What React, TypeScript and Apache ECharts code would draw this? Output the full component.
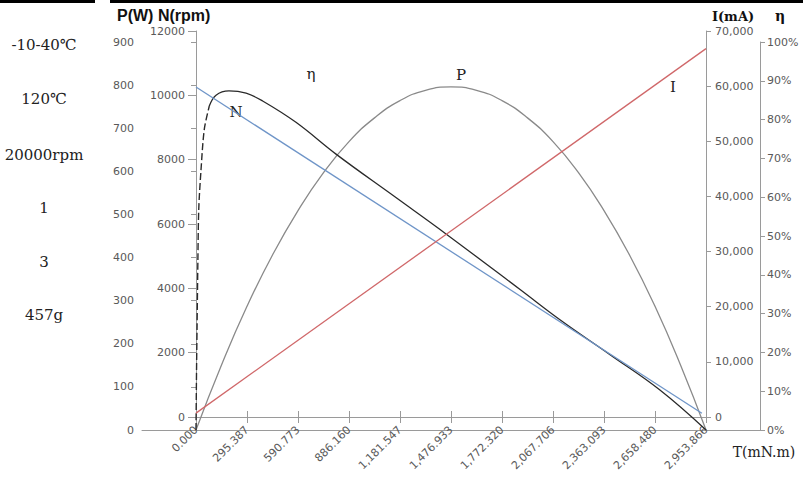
import React, { useEffect, useRef } from 'react';
import * as echarts from 'echarts';

// ---- data ----
const T_MAX = 2953.8663;
const T_STEP = 295.38663;
const xTickLabels = ['0.000', '295.387', '590.773', '886.160', '1,181.547', '1,476.933', '1,772.320', '2,067.706', '2,363.093', '2,658.480', '2,953.866'];

// Power P (W) vs torque T (mN.m)
const pTorque = [0, 147.7, 295.4, 443.1, 590.8, 738.5, 886.2, 1033.9, 1181.5, 1329.2, 1476.9, 1624.6, 1772.3, 1920.0, 2067.7, 2215.4, 2363.1, 2510.8, 2658.5, 2806.2, 2953.9];
const pWatts = [0, 151, 287, 406, 509, 597, 669, 724, 764, 788, 796, 788, 764, 724, 669, 597, 509, 406, 287, 151, 0];

// Efficiency η (%) – dashed start, then solid
const etaDashTorque = [0, 3, 6, 11, 16, 29, 48, 77];
const etaDashPct = [0, 15, 26, 44, 57, 67, 77.5, 83.5];
const etaTorque = [77, 116, 191, 290, 386, 579, 811, 1158, 1452, 1877, 2108, 2398, 2687, 2954];
const etaPct = [83.5, 86.3, 87.4, 86.8, 84.8, 79.3, 71.1, 59.9, 50.4, 36.2, 28.4, 19.4, 10.3, 0];

// Speed N (rpm)
const nTorque = [0, 2930];
const nRpm = [10260, 115];

// Current I (mA)
const iTorque = [0, 2953.87];
const iMilliamp = [700, 66800];

// Left spec column
const specTexts = ['-10-40℃', '120℃', '20000rpm', '1', '3', '457g'];
const specY = [45, 99, 155, 208, 262, 315];

const zip = (a: number[], b: number[]) => a.map((v, i) => [v, b[i]]);

const AXIS_COLOR = '#9a9a9a';
const LABEL_COLOR = '#595959';
const LABEL_FONT = { fontFamily: 'DejaVu Sans', fontSize: 11, color: LABEL_COLOR };

// layout (pixels)
const A_LEFT = 142, A_RIGHT_X = 760, A_TOP = 42, A_BOTTOM_Y = 430;
const B_LEFT = 196, B_RIGHT_X = 706, B_TOP = 31, B_BOTTOM_Y = 417;
const perPx = T_MAX / (B_RIGHT_X - B_LEFT);
const aMin = -(B_LEFT - A_LEFT) * perPx;
const aMax = T_MAX + (A_RIGHT_X - B_RIGHT_X) * perPx;

export default function App() {
  const ref = useRef<HTMLDivElement>(null);
  useEffect(() => {
    const chart = echarts.init(ref.current!, null, { renderer: 'svg' });
    const serif = 'DejaVu Serif';
    const graphics: any[] = [
      { type: 'rect', shape: { x: 0, y: 0, width: 95, height: 3 }, style: { fill: '#000' } },
      { type: 'rect', shape: { x: 110, y: 0, width: 693, height: 3 }, style: { fill: '#000' } },
      { type: 'text', x: 117, y: 15, style: { text: 'P(W) N(rpm)', font: 'bold 16px "Liberation Sans"', fill: '#111', verticalAlign: 'middle' } },
      { type: 'text', x: 733, y: 16, style: { text: 'I(mA)', font: 'bold 13px "DejaVu Serif"', fill: '#111', align: 'center', verticalAlign: 'middle' } },
      { type: 'text', x: 780, y: 16, style: { text: 'η', font: 'bold 14px "DejaVu Serif"', fill: '#111', align: 'center', verticalAlign: 'middle' } },
      { type: 'text', x: 764, y: 452, style: { text: 'T(mN.m)', font: '14px "DejaVu Serif"', fill: '#222', align: 'center', verticalAlign: 'middle' } },
      { type: 'text', x: 311, y: 74, style: { text: 'η', font: `15px "${serif}"`, fill: '#222', align: 'center', verticalAlign: 'middle' } },
      { type: 'text', x: 461, y: 75, style: { text: 'P', font: `15px "${serif}"`, fill: '#222', align: 'center', verticalAlign: 'middle' } },
      { type: 'text', x: 673, y: 87, style: { text: 'I', font: `15px "${serif}"`, fill: '#222', align: 'center', verticalAlign: 'middle' } },
      { type: 'text', x: 236, y: 112, style: { text: 'N', font: `15px "${serif}"`, fill: '#222', align: 'center', verticalAlign: 'middle' } },
      ...specTexts.map((t, i) => ({
        type: 'text', x: 44, y: specY[i],
        style: { text: t, font: `15px "${serif}"`, fill: '#222', align: 'center', verticalAlign: 'middle' },
      })),
    ];

    chart.setOption({
      animation: false,
      backgroundColor: '#fff',
      grid: [
        { left: A_LEFT, top: A_TOP, width: A_RIGHT_X - A_LEFT, height: A_BOTTOM_Y - A_TOP, outerBoundsMode: 'none' },
        { left: B_LEFT, top: B_TOP, width: B_RIGHT_X - B_LEFT, height: B_BOTTOM_Y - B_TOP, outerBoundsMode: 'none' },
        { left: B_LEFT, top: B_TOP, width: B_RIGHT_X - B_LEFT, height: B_BOTTOM_Y - B_TOP, outerBoundsMode: 'none' },
      ],
      xAxis: [
        {
          type: 'value', gridIndex: 0, min: aMin, max: aMax,
          axisLine: { show: true, lineStyle: { color: AXIS_COLOR, width: 1 } },
          axisTick: { show: false }, axisLabel: { show: false }, splitLine: { show: false },
        },
        {
          type: 'value', gridIndex: 1, min: 0, max: T_MAX, interval: T_STEP,
          axisLine: { show: true, onZero: false, lineStyle: { color: AXIS_COLOR, width: 1 } },
          axisTick: { show: true, length: 6, lineStyle: { color: AXIS_COLOR } },
          axisLabel: {
            ...LABEL_FONT, rotate: 45, margin: 11,
            formatter: (v: number) => xTickLabels[Math.round(v / T_STEP)] ?? '',
          },
          splitLine: { show: false },
        },
        {
          type: 'value', gridIndex: 2, min: 0, max: T_MAX, interval: T_STEP,
          axisLine: { show: false, onZero: false },
          axisTick: { show: true, inside: true, length: 6, lineStyle: { color: AXIS_COLOR } },
          axisLabel: { show: false }, splitLine: { show: false },
        },
      ],
      yAxis: [
        {
          type: 'value', gridIndex: 0, position: 'left', min: 0, max: 900, interval: 100,
          axisLine: { show: true, lineStyle: { color: AXIS_COLOR } },
          axisTick: { show: true, length: 5, lineStyle: { color: AXIS_COLOR } },
          axisLabel: { ...LABEL_FONT, margin: 8, formatter: (v: number) => String(v) }, splitLine: { show: false },
        },
        {
          type: 'value', gridIndex: 0, position: 'right', min: 0, max: 100, interval: 10,
          axisLine: { show: true, lineStyle: { color: AXIS_COLOR } },
          axisTick: { show: true, length: 5, lineStyle: { color: AXIS_COLOR } },
          axisLabel: { ...LABEL_FONT, margin: 7, formatter: '{value}%' }, splitLine: { show: false },
        },
        {
          type: 'value', gridIndex: 1, position: 'left', min: 0, max: 12000, interval: 2000,
          axisLine: { show: true, onZero: false, lineStyle: { color: AXIS_COLOR } },
          axisTick: { show: true, length: 8, lineStyle: { color: AXIS_COLOR } },
          axisLabel: { ...LABEL_FONT, margin: 11, formatter: (v: number) => String(v) }, splitLine: { show: false },
        },
        {
          type: 'value', gridIndex: 1, position: 'right', min: 0, max: 70000, interval: 10000,
          axisLine: { show: true, onZero: false, lineStyle: { color: AXIS_COLOR } },
          axisTick: { show: true, length: 5, lineStyle: { color: AXIS_COLOR } },
          axisLabel: { ...LABEL_FONT, margin: 9, formatter: (v: number) => v.toLocaleString('en-US') },
          splitLine: { show: false },
        },
        { type: 'value', gridIndex: 2, show: false, min: 0, max: 1 },
      ],
      series: [
        {
          name: 'P', type: 'line', xAxisIndex: 0, yAxisIndex: 0, data: zip(pTorque, pWatts),
          smooth: true, showSymbol: false, symbol: 'none',
          lineStyle: { color: '#8a8a8a', width: 1.3 },
        },
        {
          name: 'η dashed', type: 'line', xAxisIndex: 0, yAxisIndex: 1, data: zip(etaDashTorque, etaDashPct),
          smooth: 0.3, showSymbol: false, symbol: 'none',
          lineStyle: { color: '#2a2a2a', width: 1.4, type: [7, 3] },
        },
        {
          name: 'η', type: 'line', xAxisIndex: 0, yAxisIndex: 1, data: zip(etaTorque, etaPct),
          smooth: 0.4, showSymbol: false, symbol: 'none',
          lineStyle: { color: '#2a2a2a', width: 1.3 },
        },
        {
          name: 'N', type: 'line', xAxisIndex: 1, yAxisIndex: 2, data: zip(nTorque, nRpm),
          showSymbol: false, symbol: 'none',
          lineStyle: { color: '#6f95c8', width: 1.3 },
        },
        {
          name: 'I', type: 'line', xAxisIndex: 1, yAxisIndex: 3, data: zip(iTorque, iMilliamp),
          showSymbol: false, symbol: 'none',
          lineStyle: { color: '#d0686a', width: 1.3 },
        },
      ],
      graphic: graphics,
    });
    return () => chart.dispose();
  }, []);
  return <div ref={ref} style={{ position: 'fixed', left: 0, top: 0, width: 803, height: 479 }} />;
}
